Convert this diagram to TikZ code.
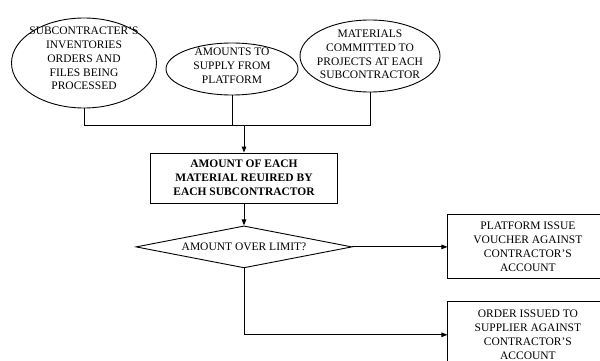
\documentclass[tikz,border=0pt]{standalone}
\usepackage{fontspec}
\setmainfont{Liberation Serif}
\usepackage{tikz}
\usetikzlibrary{
    arrows.meta,
    positioning,
    shapes.geometric
}

\begin{document}
\begin{tikzpicture}[
x=1pt, y=-1pt,
line width=0.9pt,
font=\fontsize{11.5}{13.8}\selectfont,
source/.style={
draw,
ellipse,
inner sep=0pt
},
box/.style={
draw,
rectangle,
inner sep=0pt,
align=center
},
decision/.style={
draw,
diamond,
inner sep=0pt,
shape aspect=5.1,
minimum width=216pt,
minimum height=42pt,
align=center
},
arr/.style={-{Triangle[length=6pt,width=4.5pt]}}
]

\useasboundingbox (0,0) rectangle (600,361);
\clip (0,0) rectangle (600,361);

% the three sources
\node[source, minimum width=145pt, minimum height=90pt,
label={[align=center, yshift=4.5pt]center:SUBCONTRACTER’S\\INVENTORIES\\ORDERS AND\\FILES BEING\\PROCESSED}]
(inv) at (84,63) {};

\node[source, minimum width=132pt, minimum height=52pt,
label={[align=center, yshift=3pt]center:AMOUNTS TO\\SUPPLY FROM\\PLATFORM}]
(supply) at (232,69) {};

\node[source, minimum width=140pt, minimum height=72pt,
label={[align=center, yshift=1.5pt]center:MATERIALS\\COMMITTED TO\\PROJECTS AT EACH\\SUBCONTRACTOR}]
(committed) at (370,56) {};

\coordinate (bus) at (244,125);

% main chain
\node[box, minimum width=187pt, minimum height=50pt, font=\fontsize{11.5}{13.8}\selectfont\bfseries]
(required) at (244,178)
{AMOUNT OF EACH\\MATERIAL REUIRED BY\\EACH SUBCONTRACTOR};

\node[decision, below=22pt of required] (limit)
{AMOUNT OVER LIMIT?};

\node[box, minimum width=160pt, minimum height=64pt,
right=95pt of limit] (voucher)
{PLATFORM ISSUE\\VOUCHER AGAINST\\CONTRACTOR’S\\ACCOUNT};

\node[box, minimum width=160pt, minimum height=66pt,
below=22pt of voucher] (order)
{ORDER ISSUED TO\\SUPPLIER AGAINST\\CONTRACTOR’S\\ACCOUNT};

% connectors
\draw (inv.south) |- (bus);
\draw (committed.south) |- (bus);
\draw (supply.south) -- (supply.south |- bus);
\draw[arr] (bus) -- (required);
\draw[arr] (required) -- (limit);
\draw[arr] (limit) -- (voucher);
\draw[arr] (limit.south) |- (order.west);

\end{tikzpicture}
\end{document}
